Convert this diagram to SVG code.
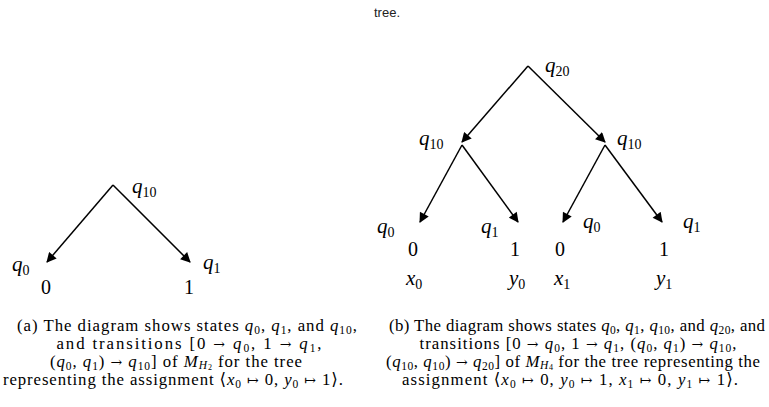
<svg xmlns="http://www.w3.org/2000/svg" width="769" height="407" viewBox="0 0 769 407">
<style>
.bg{fill:#fff}
.ea{stroke:#000;stroke-width:1.5;fill:none;marker-end:url(#ah)}
.m{font-family:"Liberation Serif","DejaVu Serif",serif;font-size:21px;fill:#000}
.mi{font-style:italic}
.s{font-size:14px;font-style:normal}
.d{font-family:"Liberation Serif","DejaVu Serif",serif;font-size:20px;fill:#000}
.cap{font-family:"Liberation Serif","DejaVu Serif",serif;font-size:16.8px;fill:#000;text-anchor:middle}
.cs{font-size:11.5px}
.ar{font-family:"DejaVu Serif",serif;font-size:14px}
.top{font-family:"Liberation Sans",sans-serif;font-size:13px;fill:#222;text-anchor:middle}
</style>
<defs>
<marker id="ah" viewBox="0 0 10 10" refX="9" refY="5" markerWidth="11" markerHeight="10" markerUnits="userSpaceOnUse" orient="auto">
<path d="M0,0 L10,5 L0,10 z" fill="#000"/>
</marker>
</defs>
<rect class="bg" x="0" y="0" width="769" height="407"/>
<text class="top" x="387" y="17">tree.</text>

<g id="connectors">
<line class="ea" x1="113" y1="185" x2="47" y2="262"/>
<line class="ea" x1="113" y1="185" x2="190" y2="262"/>
<line class="ea" x1="528" y1="66" x2="462" y2="142"/>
<line class="ea" x1="528" y1="66" x2="605" y2="142"/>
<line class="ea" x1="462" y1="145" x2="420" y2="222"/>
<line class="ea" x1="462" y1="145" x2="518" y2="222"/>
<line class="ea" x1="605" y1="145" x2="563" y2="222"/>
<line class="ea" x1="605" y1="145" x2="662" y2="222"/>
</g>

<g id="a-root"><text class="m" x="132" y="193"><tspan class="mi">q</tspan><tspan class="s" dy="4">10</tspan></text></g>
<g id="a-q0"><text class="m" x="12" y="271"><tspan class="mi">q</tspan><tspan class="s" dy="4">0</tspan></text><text class="d" x="41" y="294">0</text></g>
<g id="a-q1"><text class="m" x="203" y="269"><tspan class="mi">q</tspan><tspan class="s" dy="4">1</tspan></text><text class="d" x="184" y="294">1</text></g>

<g id="b-root"><text class="m" x="545" y="72"><tspan class="mi">q</tspan><tspan class="s" dy="4">20</tspan></text></g>
<g id="b-l"><text class="m" x="419" y="145"><tspan class="mi">q</tspan><tspan class="s" dy="4">10</tspan></text></g>
<g id="b-r"><text class="m" x="617" y="145"><tspan class="mi">q</tspan><tspan class="s" dy="4">10</tspan></text></g>
<g id="b-ll"><text class="m" x="377" y="233"><tspan class="mi">q</tspan><tspan class="s" dy="4">0</tspan></text><text class="d" x="408" y="256">0</text><text class="m" x="406" y="285"><tspan class="mi">x</tspan><tspan class="s" dy="4">0</tspan></text></g>
<g id="b-lr"><text class="m" x="481" y="233"><tspan class="mi">q</tspan><tspan class="s" dy="4">1</tspan></text><text class="d" x="510" y="256">1</text><text class="m" x="509" y="285"><tspan class="mi">y</tspan><tspan class="s" dy="4">0</tspan></text></g>
<g id="b-rl"><text class="m" x="583" y="228"><tspan class="mi">q</tspan><tspan class="s" dy="4">0</tspan></text><text class="d" x="555" y="256">0</text><text class="m" x="554" y="285"><tspan class="mi">x</tspan><tspan class="s" dy="4">1</tspan></text></g>
<g id="b-rr"><text class="m" x="683" y="228"><tspan class="mi">q</tspan><tspan class="s" dy="4">1</tspan></text><text class="d" x="659" y="256">1</text><text class="m" x="656" y="285"><tspan class="mi">y</tspan><tspan class="s" dy="4">1</tspan></text></g>

<g id="caption-a">
<text class="cap" x="187" y="331" textLength="340" lengthAdjust="spacing">(a) The diagram shows states <tspan font-style="italic">q</tspan><tspan class="cs" dy="2.5">0</tspan><tspan dy="-2.5">, </tspan><tspan font-style="italic">q</tspan><tspan class="cs" dy="2.5">1</tspan><tspan dy="-2.5">, and </tspan><tspan font-style="italic">q</tspan><tspan class="cs" dy="2.5">10</tspan><tspan dy="-2.5">,</tspan></text>
<text class="cap" x="189" y="349" textLength="265" lengthAdjust="spacing">and transitions [0 <tspan class="ar">→</tspan> <tspan font-style="italic">q</tspan><tspan class="cs" dy="2.5">0</tspan><tspan dy="-2.5">, 1 </tspan><tspan class="ar">→</tspan> <tspan font-style="italic">q</tspan><tspan class="cs" dy="2.5">1</tspan><tspan dy="-2.5">,</tspan></text>
<text class="cap" x="176" y="367" textLength="252" lengthAdjust="spacing">(<tspan font-style="italic">q</tspan><tspan class="cs" dy="2.5">0</tspan><tspan dy="-2.5">, </tspan><tspan font-style="italic">q</tspan><tspan class="cs" dy="2.5">1</tspan><tspan dy="-2.5">) </tspan><tspan class="ar">→</tspan> <tspan font-style="italic">q</tspan><tspan class="cs" dy="2.5">10</tspan><tspan dy="-2.5">] of </tspan><tspan font-style="italic">M</tspan><tspan class="cs" font-style="italic" dy="1.5">H</tspan><tspan font-size="8" dy="1">2</tspan><tspan dy="-2.5"> for the tree</tspan></text>
<text class="cap" x="173" y="385" textLength="340" lengthAdjust="spacing">representing the assignment ⟨<tspan font-style="italic">x</tspan><tspan class="cs" dy="2.5">0</tspan><tspan dy="-2.5"> </tspan><tspan class="ar">↦</tspan> 0, <tspan font-style="italic">y</tspan><tspan class="cs" dy="2.5">0</tspan><tspan dy="-2.5"> </tspan><tspan class="ar">↦</tspan> 1⟩.</text>
</g>

<g id="caption-b">
<text class="cap" x="577" y="331" textLength="376" lengthAdjust="spacing">(b) The diagram shows states <tspan font-style="italic">q</tspan><tspan class="cs" dy="2.5">0</tspan><tspan dy="-2.5">, </tspan><tspan font-style="italic">q</tspan><tspan class="cs" dy="2.5">1</tspan><tspan dy="-2.5">, </tspan><tspan font-style="italic">q</tspan><tspan class="cs" dy="2.5">10</tspan><tspan dy="-2.5">, and </tspan><tspan font-style="italic">q</tspan><tspan class="cs" dy="2.5">20</tspan><tspan dy="-2.5">, and</tspan></text>
<text class="cap" x="578" y="349" textLength="317" lengthAdjust="spacing">transitions [0 <tspan class="ar">→</tspan> <tspan font-style="italic">q</tspan><tspan class="cs" dy="2.5">0</tspan><tspan dy="-2.5">, 1 </tspan><tspan class="ar">→</tspan> <tspan font-style="italic">q</tspan><tspan class="cs" dy="2.5">1</tspan><tspan dy="-2.5">, (</tspan><tspan font-style="italic">q</tspan><tspan class="cs" dy="2.5">0</tspan><tspan dy="-2.5">, </tspan><tspan font-style="italic">q</tspan><tspan class="cs" dy="2.5">1</tspan><tspan dy="-2.5">) </tspan><tspan class="ar">→</tspan> <tspan font-style="italic">q</tspan><tspan class="cs" dy="2.5">10</tspan><tspan dy="-2.5">,</tspan></text>
<text class="cap" x="573" y="367" textLength="374" lengthAdjust="spacing">(<tspan font-style="italic">q</tspan><tspan class="cs" dy="2.5">10</tspan><tspan dy="-2.5">, </tspan><tspan font-style="italic">q</tspan><tspan class="cs" dy="2.5">10</tspan><tspan dy="-2.5">) </tspan><tspan class="ar">→</tspan> <tspan font-style="italic">q</tspan><tspan class="cs" dy="2.5">20</tspan><tspan dy="-2.5">] of </tspan><tspan font-style="italic">M</tspan><tspan class="cs" font-style="italic" dy="1.5">H</tspan><tspan font-size="8" dy="1">4</tspan><tspan dy="-2.5"> for the tree representing the</tspan></text>
<text class="cap" x="570" y="385" textLength="336" lengthAdjust="spacing">assignment ⟨<tspan font-style="italic">x</tspan><tspan class="cs" dy="2.5">0</tspan><tspan dy="-2.5"> </tspan><tspan class="ar">↦</tspan> 0, <tspan font-style="italic">y</tspan><tspan class="cs" dy="2.5">0</tspan><tspan dy="-2.5"> </tspan><tspan class="ar">↦</tspan> 1, <tspan font-style="italic">x</tspan><tspan class="cs" dy="2.5">1</tspan><tspan dy="-2.5"> </tspan><tspan class="ar">↦</tspan> 0, <tspan font-style="italic">y</tspan><tspan class="cs" dy="2.5">1</tspan><tspan dy="-2.5"> </tspan><tspan class="ar">↦</tspan> 1⟩.</text>
</g>
</svg>
